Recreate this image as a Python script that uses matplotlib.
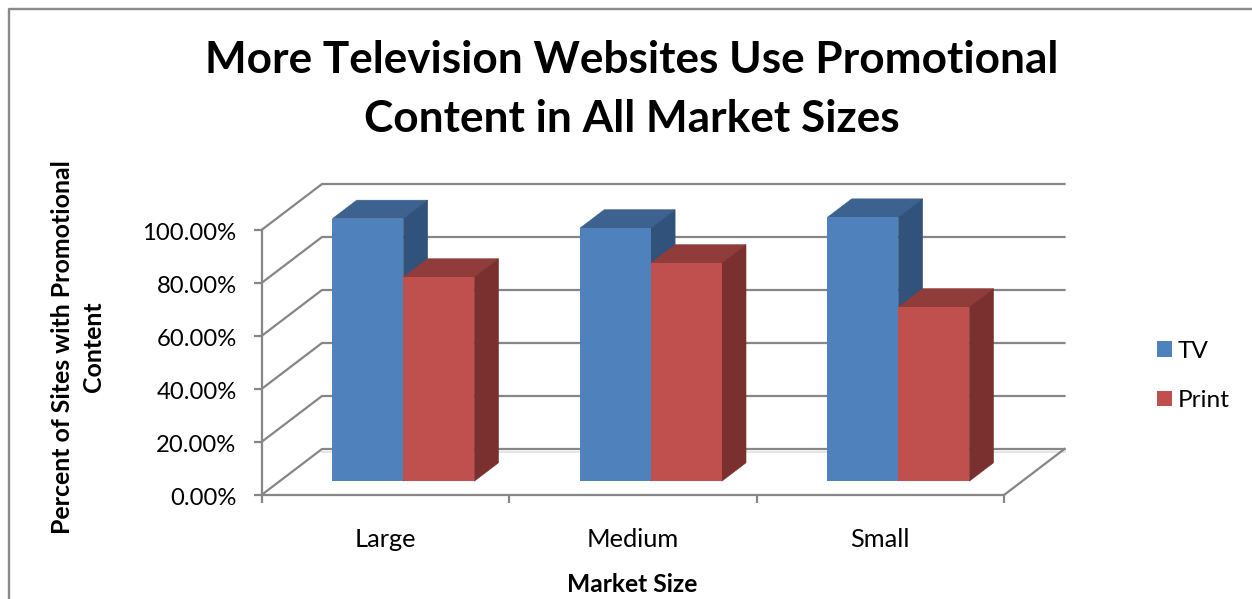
import matplotlib
matplotlib.use("Agg")
import matplotlib.pyplot as plt
from matplotlib.patches import Polygon
from matplotlib.transforms import ScaledTranslation
import numpy as np

plt.rcParams['font.family'] = ['Lato', 'DejaVu Sans']

categories = ['Large', 'Medium', 'Small']
series_names = ['TV', 'Print']
tv_values = [99.1, 95.5, 99.6]
print_values = [77.0, 82.3, 65.7]
y_ticks = [0, 20, 40, 60, 80, 100]

W, H = 1252, 599
GRID = '#868686'
TEXT = '#000000'
DX, DY = 60.5 / 247.5, 46 / 2.65     # wall depth in data units
BAR_W = 0.2865
D0, D1 = 0.30, 0.70                  # bar depth range, as wall-depth fractions
COLORS = {'TV': ('#4f81bd', '#3d628f', '#31527a'),
          'Print': ('#c0504d', '#8f3c3a', '#79302f')}
GRID_LW = 1.6

fig = plt.figure(figsize=(W / 100, H / 100), dpi=100, facecolor='white')
ax = fig.add_axes([261.5 / W, (H - 495) / H, 742.5 / W, 265 / H])
ax.patch.set_alpha(0)
ax.set_xlim(0, 3)
ax.set_ylim(0, 100)

# frame around chart area (only left and top are visible in the crop)
fig.add_artist(plt.Line2D([8.5 / W, 8.5 / W, 1], [0, 1 - 9 / H, 1 - 9 / H],
                          color='#8a8a8a', lw=1.7))

# walls
for v in y_ticks:
    ax.plot([0, DX, 3 + DX], [v, v + DY, v + DY], color=GRID, lw=GRID_LW,
            clip_on=False, zorder=1, solid_joinstyle='miter')
ax.plot([DX, 3 + DX], [DY - 1.0, DY - 1.0], color='#e2e2e2', lw=1.2,
        clip_on=False, zorder=0.9)
ax.plot([3, 3 + DX], [0, DY], color=GRID, lw=GRID_LW, clip_on=False, zorder=1)


def side_polys(x0, x1, v):
    d0x, d1x = D0 * DX, D1 * DX
    d0y, d1y = D0 * DY, D1 * DY
    top = [(x0 + d0x, v + d0y), (x1 + d0x, v + d0y),
           (x1 + d1x, v + d1y), (x0 + d1x, v + d1y)]
    side = [(x1 + d0x, d0y), (x1 + d1x, d1y),
            (x1 + d1x, v + d1y), (x1 + d0x, v + d0y)]
    return top, side


handles = {}
for i in range(len(categories)):
    for j, (name, vals) in enumerate(zip(series_names, [tv_values, print_values])):
        v = vals[i]
        x0 = i + 0.5 - BAR_W + j * BAR_W
        x1 = x0 + BAR_W
        front, topc, sidec = COLORS[name]
        z = 3 + i + j * 0.5
        top, side = side_polys(x0, x1, v)
        ax.add_patch(Polygon(top, closed=True, fc=topc, ec=topc, lw=0.4, clip_on=False, zorder=z))
        ax.add_patch(Polygon(side, closed=True, fc=sidec, ec=sidec, lw=0.4, clip_on=False, zorder=z))
        b = ax.bar(x0 + D0 * DX, v, width=BAR_W, bottom=D0 * DY, align='edge',
                   color=front, linewidth=0, clip_on=False, zorder=z + 0.1)
        handles[name] = b[0]

# axes
for s in ['top', 'right']:
    ax.spines[s].set_visible(False)
for s in ['left', 'bottom']:
    ax.spines[s].set_color(GRID)
    ax.spines[s].set_linewidth(GRID_LW)
    ax.spines[s].set_zorder(2)

ax.set_yticks(y_ticks)
ax.set_yticklabels([f'{v:.2f}%' for v in y_ticks], fontsize=17.2, color=TEXT)
ax.tick_params(axis='y', length=6, width=GRID_LW, color=GRID, pad=12)
shift = ScaledTranslation(0, -1.5 / 100, fig.dpi_scale_trans)
for lab in ax.get_yticklabels():
    lab.set_transform(lab.get_transform() + shift)
ax.set_xticks(range(len(categories) + 1))
ax.set_xticklabels([])
ax.tick_params(axis='x', which='major', length=6, width=GRID_LW, color=GRID)
ax.set_xticks(np.arange(len(categories)) + 0.5, minor=True)
ax.set_xticklabels(categories, minor=True, fontsize=18.3, color=TEXT)
ax.tick_params(axis='x', which='minor', length=0, pad=23.5)

fig.text(632 / W, 1 - 89.5 / H, 'More Television Websites Use Promotional\nContent in All Market Sizes',
         ha='center', va='center', fontsize=31.8, fontweight='bold', color=TEXT, linespacing=1.55)
fig.text(632 / W, 1 - 584 / H, 'Market Size', ha='center', va='center',
         fontsize=17.7, fontweight='bold', color=TEXT)
fig.text(78 / W, 1 - 347 / H, 'Percent of Sites with Promotional\nContent', ha='center', va='center',
         rotation=90, fontsize=17.9, fontweight='bold', color=TEXT, linespacing=1.4)

fig.legend([handles[n] for n in series_names], series_names,
           loc='center left', bbox_to_anchor=(1157 / W, 1 - 376 / H),
           frameon=False, fontsize=17.6, handlelength=0.61, handleheight=0.61,
           handletextpad=0.24, labelspacing=1.16, borderpad=0, borderaxespad=0)

fig.savefig('out.png', dpi=100)
